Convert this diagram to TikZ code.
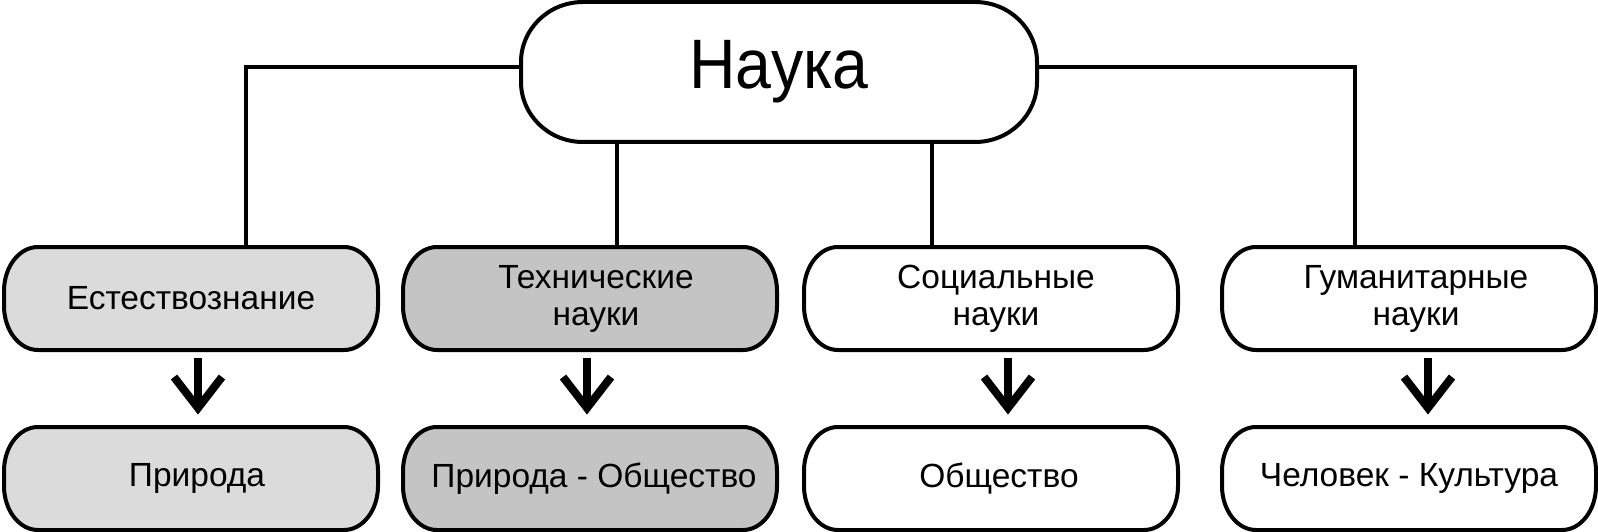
\documentclass[tikz,border=0pt]{standalone}
\usepackage{fontspec}
\setmainfont{Liberation Sans}
\newfontfamily\narrowfont[FakeStretch=0.92]{Liberation Sans}
\usetikzlibrary{calc}
\pgfdeclarelayer{bg}
\pgfsetlayers{bg,main}
\definecolor{lightfill}{gray}{0.86}
\definecolor{darkfill}{gray}{0.77}
\newcommand\stadium[4]{%
  \begin{pgfonlayer}{bg}
  \draw[boxline, fill=#2] ([xshift=#3]#1.north west) -- ([xshift=-#3]#1.north east)
    arc[start angle=90, end angle=0, x radius=#3, y radius=#4]
    -- ([yshift=#4]#1.south east)
    arc[start angle=0, end angle=-90, x radius=#3, y radius=#4]
    -- ([xshift=#3]#1.south west)
    arc[start angle=270, end angle=180, x radius=#3, y radius=#4]
    -- ([yshift=-#4]#1.north west)
    arc[start angle=180, end angle=90, x radius=#3, y radius=#4] -- cycle;
  \end{pgfonlayer}}
\tikzset{
  boxline/.style={line width=4pt, draw=black},
  shapebox/.style={draw=none, inner sep=0pt, outer sep=0pt, minimum width=374pt,
    minimum height=103pt, align=center, font=\fontsize{33.5}{37}\selectfont},
  topbox/.style={draw=none, inner sep=0pt, outer sep=0pt, minimum width=516pt,
    minimum height=140pt, font=\narrowfont\fontsize{70}{70}\selectfont},
  conn/.style={line width=3.2pt, draw=black, line cap=rect},
  arrowline/.style={line width=8pt, draw=black, line cap=butt, line join=miter},
}
\begin{document}
\begin{tikzpicture}[x=1pt, y=-1pt]
\useasboundingbox (0,0) rectangle (1598,532);
\node[topbox] (T) at (779,72) {Наука};
\node[shapebox] (B1) at (191,298.5) {Естествознание};
\node[shapebox] (B2) at (590,298.5) {\hspace*{12pt}Технические\\\hspace*{12pt}науки};
\node[shapebox] (B3) at (991,298.5) {\hspace*{10pt}Социальные\\\hspace*{10pt}науки};
\node[shapebox] (B4) at (1409,298.5) {\hspace*{14pt}Гуманитарные\\\hspace*{14pt}науки};
\node[shapebox] (P1) at (191,478.5) {\hspace*{12pt}Природа};
\node[shapebox] (P2) at (590,478.5) {\hspace*{8pt}Природа - Общество};
\node[shapebox] (P3) at (991,478.5) {\hspace*{16pt}Общество};
\node[shapebox] (P4) at (1409,478.5) {Человек - Культура};
\stadium{T}{white}{62pt}{60pt}
\stadium{B1}{lightfill}{34pt}{44pt}
\stadium{B2}{darkfill}{34pt}{44pt}
\stadium{B3}{white}{34pt}{44pt}
\stadium{B4}{white}{34pt}{44pt}
\stadium{P1}{lightfill}{34pt}{44pt}
\stadium{P2}{darkfill}{34pt}{44pt}
\stadium{P3}{white}{34pt}{44pt}
\stadium{P4}{white}{34pt}{44pt}
% connectors
\begin{pgfonlayer}{bg}
\draw[conn] ([yshift=5pt]T.west) -| ([xshift=55pt]B1.north);
\draw[conn] ([yshift=5pt]T.east) -| ([xshift=-54pt]B4.north);
\draw[conn] ([xshift=27pt]B2.north) -- ([xshift=27pt]B2.north |- T.south);
\draw[conn] ([xshift=-59pt]B3.north) -- ([xshift=-59pt]B3.north |- T.south);
\end{pgfonlayer}
% arrows
\foreach \b/\p/\dx in {B1/P1/7, B2/P2/-3, B3/P3/17, B4/P4/19}{
  \draw[arrowline] ($(\b.south)+(\dx,8)$) -- ($(\p.north)+(\dx,-19)$);
  \draw[arrowline] ($(\p.north)+(\dx-24,-50)$) -- ($(\p.north)+(\dx,-19)$) -- ($(\p.north)+(\dx+24,-50)$);
}
\end{tikzpicture}
\end{document}
